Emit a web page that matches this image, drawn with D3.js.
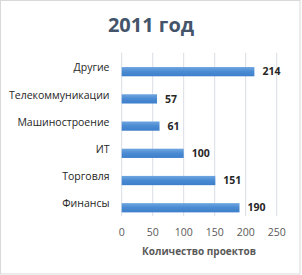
<!DOCTYPE html>
<html>
<head>
<meta charset="utf-8">
<script src="https://cdn.jsdelivr.net/npm/d3@7"></script>
<style>
  body { margin: 0; background: #fff; }
  text { font-family: "Open Sans", "Liberation Sans", sans-serif; }
</style>
</head>
<body>
<div id="chart"></div>
<script>
var categories = ["Другие", "Телекоммуникации", "Машиностроение", "ИТ", "Торговля", "Финансы"]
var values = [214, 57, 61, 100, 151, 190]
var ticks = [0, 50, 100, 150, 200, 250]

var W = 302, H = 275
var svg = d3.select("#chart").append("svg").attr("width", W).attr("height", H)

svg.append("rect").attr("x", 0.5).attr("y", 0.5).attr("width", 299.5).attr("height", 273.5)
   .attr("fill", "#fff").attr("stroke", "#d9d9d9")

var x = d3.scaleLinear().domain([0, 250]).range([121.7, 276.7])
var y = d3.scaleBand().domain(categories).range([52.7, 216])

// gridlines
svg.selectAll(".grid").data(ticks).enter().append("line")
   .attr("x1", function (d) { return x(d) }).attr("x2", function (d) { return x(d) })
   .attr("y1", 52.7).attr("y2", 216)
   .attr("stroke", "#d9dde6").attr("stroke-width", 1)

var grad = svg.append("defs").append("linearGradient").attr("id", "bar")
   .attr("x1", 0).attr("y1", 0).attr("x2", 0).attr("y2", 1)
grad.append("stop").attr("offset", "0%").attr("stop-color", "#6ea6e0")
grad.append("stop").attr("offset", "50%").attr("stop-color", "#4a8ad2")
grad.append("stop").attr("offset", "100%").attr("stop-color", "#3d7fcb")

svg.selectAll(".bar").data(values).enter().append("rect")
   .attr("x", x(0))
   .attr("y", function (d, i) { return y(categories[i]) + y.bandwidth() * 0.527 })
   .attr("width", function (d) { return x(d) - x(0) })
   .attr("height", y.bandwidth() * 0.34)
   .attr("fill", "url(#bar)")

svg.selectAll(".val").data(values).enter().append("text")
   .attr("x", function (d) { return x(d) + 8 })
   .attr("y", function (d, i) { return y(categories[i]) + y.bandwidth() * 0.697 })
   .attr("dy", "0.35em")
   .attr("font-size", 10.5).attr("font-weight", "bold").attr("fill", "#262626")
   .text(function (d) { return d })

svg.selectAll(".cat").data(categories).enter().append("text")
   .attr("x", 109.5)
   .attr("y", function (d) { return y(d) + y.bandwidth() * 0.55 })
   .attr("dy", "0.35em")
   .attr("text-anchor", "end")
   .attr("font-size", 10.5).attr("fill", "#262626")
   .text(function (d) { return d })

svg.selectAll(".tick").data(ticks).enter().append("text")
   .attr("x", function (d) { return x(d) }).attr("y", 232.7)
   .attr("dy", "0.35em").attr("text-anchor", "middle")
   .attr("font-size", 10.5).attr("fill", "#595959")
   .text(function (d) { return d })

svg.append("text").attr("x", 199).attr("y", 251.7).attr("dy", "0.35em")
   .attr("text-anchor", "middle").attr("font-size", 10).attr("font-weight", "bold")
   .attr("fill", "#595959").text("Количество проектов")

svg.append("text").attr("x", 151).attr("y", 32).attr("text-anchor", "middle")
   .attr("font-size", 20).attr("font-weight", "bold").attr("fill", "#44546a")
   .text("2011 год")
</script>
</body>
</html>
